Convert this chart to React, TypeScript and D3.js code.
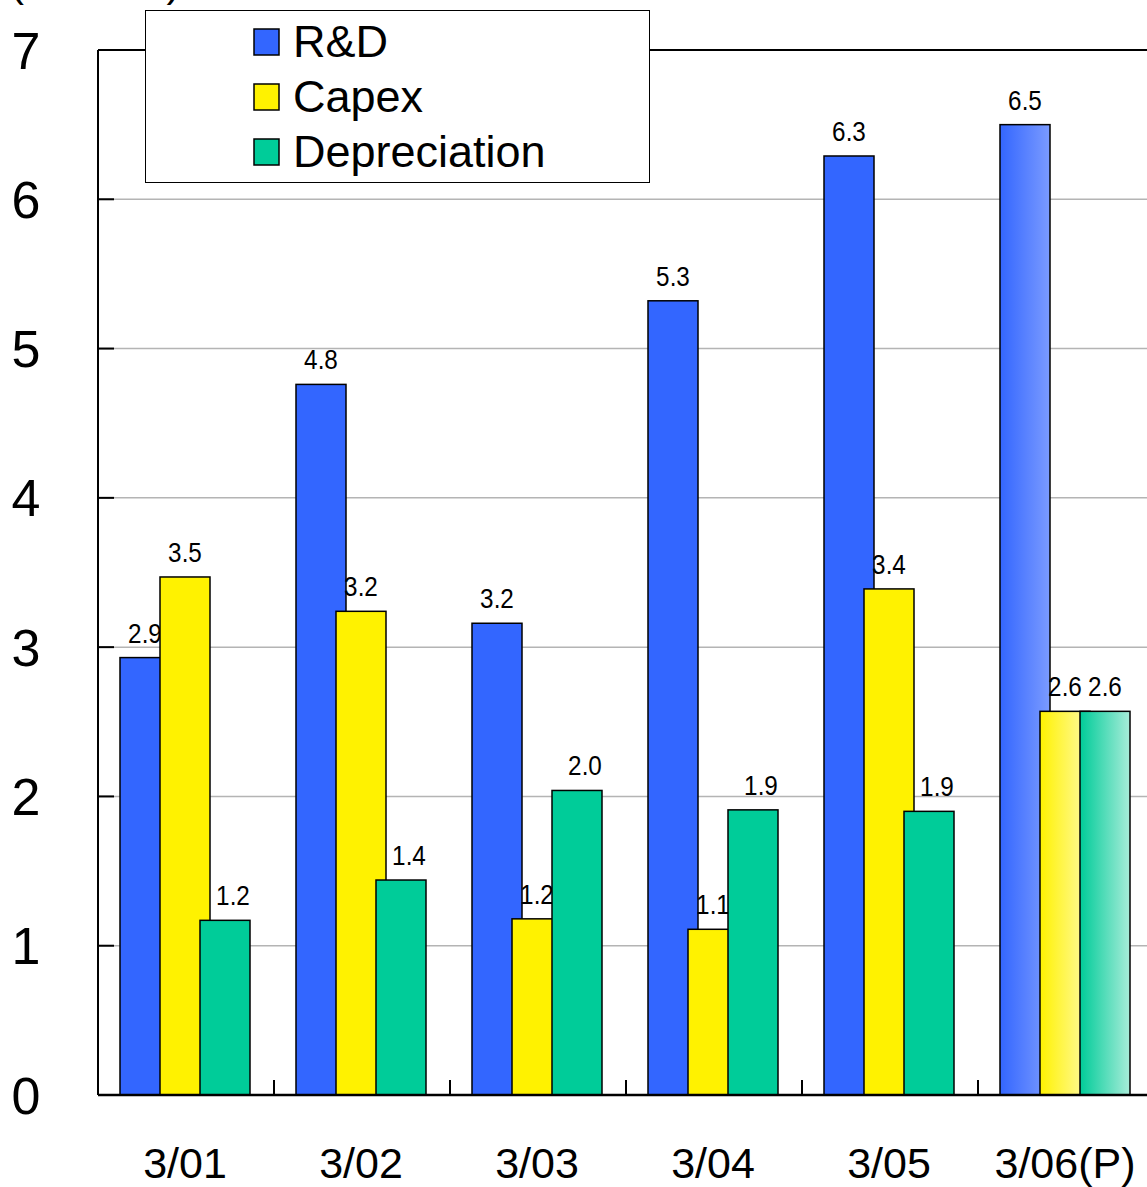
import React from "react";
import * as d3 from "d3";

const categories = ["3/01", "3/02", "3/03", "3/04", "3/05", "3/06(P)"];
const seriesNames = ["R&D", "Capex", "Depreciation"];
const rdValues = [2.93, 4.76, 3.16, 5.32, 6.29, 6.5];
const capexValues = [3.47, 3.24, 1.18, 1.11, 3.39, 2.57];
const deprValues = [1.17, 1.44, 2.04, 1.91, 1.9, 2.57];
const yTicks = [0, 1, 2, 3, 4, 5, 6, 7];
const unitLabel = "(¥ billion)";

const colors = ["#3366ff", "#fff200", "#00cc99"];
const lightColors = ["#7b9bff", "#fffaa8", "#a8ecd9"];

const W = 1147;
const H = 1187;
const left = 98;
const right = 1154;
const top = 50;
const bottom = 1095;

export default function App() {
  const series = [rdValues, capexValues, deprValues];
  const y = d3.scaleLinear().domain([0, 7]).range([bottom, top]);
  const x = d3.scaleBand<string>().domain(categories).range([left, right]).padding(0);
  const barW = 50;
  const step = 40;
  const mainFont = "'Liberation Sans', Arial, sans-serif";
  const lastIdx = categories.length - 1;
  const yFont = 52;

  return (
    <svg
      width={W}
      height={H}
      style={{ position: "absolute", left: 0, top: 0, background: "#fff" }}
    >
      <defs>
        {colors.map((c, i) => (
          <linearGradient key={i} id={`grad${i}`} x1="0" x2="1" y1="0" y2="0">
            <stop offset="0%" stopColor={c} />
            <stop offset="100%" stopColor={lightColors[i]} />
          </linearGradient>
        ))}
      </defs>
      <rect x={0} y={0} width={W} height={H} fill="#fff" />
      {/* unit label cut off at top */}
      <text x={10} y={-4} fontFamily={mainFont} fontSize={42} fill="#000">
        {unitLabel}
      </text>
      {/* grid lines */}
      {yTicks
        .filter((t) => t > 0 && t < 7)
        .map((t) => (
          <line key={t} x1={left} x2={W} y1={y(t)} y2={y(t)} stroke="#b4b4b4" strokeWidth={1.5} />
        ))}
      {/* frame top */}
      <line x1={left} x2={W} y1={y(7)} y2={y(7)} stroke="#000" strokeWidth={2} />
      {/* y axis */}
      <line x1={left} x2={left} y1={y(0)} y2={y(7)} stroke="#000" strokeWidth={2} />
      {yTicks.map((t) => (
        <g key={t}>
          <line x1={left} x2={left + 16} y1={y(t)} y2={y(t)} stroke="#000" strokeWidth={2} />
          <text
            x={26}
            y={y(t) + yFont * 0.358}
            textAnchor="middle"
            fontFamily={mainFont}
            fontSize={yFont}
            fill="#000"
          >
            {t}
          </text>
        </g>
      ))}
      {/* x ticks */}
      {categories.map((c) => (
        <line
          key={c}
          x1={x(c) as number}
          x2={x(c) as number}
          y1={bottom}
          y2={bottom - 15}
          stroke="#000"
          strokeWidth={2}
        />
      ))}
      {/* bars */}
      {categories.map((c, ci) => {
        const center = (x(c) as number) + x.bandwidth() / 2;
        return (
          <g key={c}>
            {series.map((vals, si) => {
              const bx = center - 66 + si * step;
              const by = y(vals[ci]);
              const fill = ci === lastIdx ? `url(#grad${si})` : colors[si];
              const lx = bx + barW / 2 + (si === 2 && ci !== lastIdx ? 8 : 0);
              return (
                <g key={si}>
                  <rect
                    x={bx}
                    y={by}
                    width={barW}
                    height={y(0) - by}
                    fill={fill}
                    stroke="#000"
                    strokeWidth={1.5}
                  />
                  <g transform={`translate(${lx}, ${by - 15}) scale(0.9, 1)`}>
                    <text
                      x={0}
                      y={0}
                      textAnchor="middle"
                      fontFamily={mainFont}
                      fontSize={27}
                      fill="#000"
                    >
                      {vals[ci].toFixed(1)}
                    </text>
                  </g>
                </g>
              );
            })}
          </g>
        );
      })}
      {/* x axis */}
      <line x1={left} x2={W} y1={bottom} y2={bottom} stroke="#000" strokeWidth={2.5} />
      {categories.map((c) => (
        <text
          key={c}
          x={(x(c) as number) + x.bandwidth() / 2 - 1}
          y={1178}
          textAnchor="middle"
          fontFamily={mainFont}
          fontSize={43}
          fill="#000"
        >
          {c}
        </text>
      ))}
      {/* legend */}
      <rect x={145.5} y={10.5} width={504} height={172} fill="#fff" stroke="#000" strokeWidth={1} />
      {seriesNames.map((n, i) => (
        <g key={n}>
          <rect
            x={254}
            y={29 + i * 55}
            width={25}
            height={26}
            fill={colors[i]}
            stroke="#000"
            strokeWidth={1.5}
          />
          <text x={293} y={57 + i * 55} fontFamily={mainFont} fontSize={45} fill="#000">
            {n}
          </text>
        </g>
      ))}
    </svg>
  );
}
